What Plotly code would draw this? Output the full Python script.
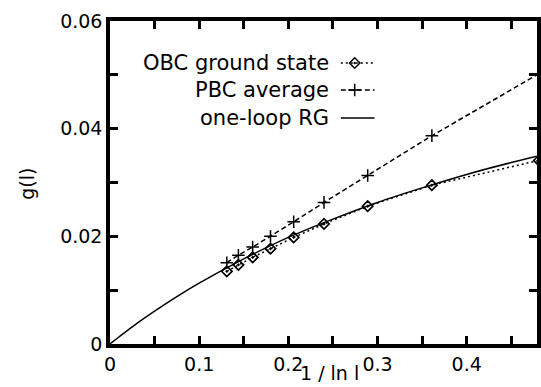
import plotly.graph_objects as go

# ---------------- data ----------------
inv_ln_l = [0.131, 0.144, 0.160, 0.180, 0.206, 0.240, 0.289, 0.361, 0.481]
obc_g = [0.0135, 0.0147, 0.0161, 0.0177, 0.0198, 0.0223, 0.0256, 0.0295, 0.0341]
pbc_g = [0.0151, 0.0165, 0.0180, 0.0200, 0.0227, 0.0263, 0.0313, 0.0387, 0.0502]

rg_x = [0, 0.01, 0.025, 0.05, 0.075, 0.1, 0.15, 0.2, 0.25, 0.3, 0.35, 0.4, 0.45, 0.5]
rg_g = [0, 0.0013, 0.0032, 0.0061, 0.0088, 0.0113, 0.0158, 0.0198, 0.0232,
        0.0263, 0.0290, 0.0315, 0.0337, 0.0357]

x_tickvals = [0, 0.05, 0.1, 0.15, 0.2, 0.25, 0.3, 0.35, 0.4, 0.45]
x_ticktext = ["0", "", "0.1", "", "0.2", "", "0.3", "", "0.4", ""]
y_tickvals = [0, 0.01, 0.02, 0.03, 0.04, 0.05, 0.06]
y_ticktext = ["0", "", "0.02", "", "0.04", "", "0.06"]

series_names = ["OBC ground state", "PBC average", "one-loop RG"]
x_title = "1 / ln l"
y_title = "g(l)"

# ---------------- layout geometry ----------------
W, H = 541, 387
ML, MR, MT, MB = 110, 0, 21, 43
PW, PH = W - ML - MR, H - MT - MB
FONT = "DejaVu Sans"


def xp(px):
    return (px - ML) / PW


def yp(py):
    return (H - MB - py) / PH


OBC_DASH = "2px,3px"
PBC_DASH = "5px,3px"

fig = go.Figure()

fig.add_trace(go.Scatter(
    x=rg_x, y=rg_g, mode="lines", line=dict(color="black", width=1.5, shape="spline"),
    showlegend=False, hoverinfo="skip"))
fig.add_trace(go.Scatter(
    x=inv_ln_l, y=obc_g, mode="lines+markers",
    line=dict(color="black", width=1.5, dash=OBC_DASH),
    marker=dict(symbol="diamond-open-dot", size=8, color="black", line=dict(width=1.7, color="black")),
    showlegend=False))
fig.add_trace(go.Scatter(
    x=inv_ln_l, y=pbc_g, mode="lines+markers",
    line=dict(color="black", width=1.5, dash=PBC_DASH),
    marker=dict(symbol="cross-thin", size=9, color="black", line=dict(width=1.5, color="black")),
    showlegend=False))

# ---------------- manual key (text left of sample, gnuplot style) ----------------
key_rows_y = [63, 90, 118]
key_styles = [
    dict(dash=OBC_DASH, symbol="diamond-open-dot", size=8),
    dict(dash=PBC_DASH, symbol="cross-thin", size=9),
    dict(dash="solid", symbol=None, size=0),
]
for name, ry, st in zip(series_names, key_rows_y, key_styles):
    fig.add_trace(go.Scatter(
        x=[343, 377], y=[ry, ry], mode="lines", xaxis="x2", yaxis="y2",
        line=dict(color="black", width=1.5, dash=st["dash"]),
        showlegend=False, hoverinfo="skip"))
    if st["symbol"]:
        fig.add_trace(go.Scatter(
            x=[357], y=[ry], mode="markers", xaxis="x2", yaxis="y2",
            marker=dict(symbol=st["symbol"], size=st["size"], color="black",
                        line=dict(width=1.5, color="black")),
            showlegend=False, hoverinfo="skip"))
    fig.add_annotation(
        x=xp(333), y=yp(ry), xref="paper", yref="paper", text=name, showarrow=False,
        xanchor="right", yanchor="middle", font=dict(family=FONT, size=21, color="black"))

# axis titles
fig.add_annotation(x=xp(332), y=yp(373), xref="paper", yref="paper", text=x_title,
                   showarrow=False, xanchor="center", yanchor="middle",
                   font=dict(family=FONT, size=19, color="black"))
fig.add_annotation(x=xp(26), y=yp(184), xref="paper", yref="paper", text=y_title,
                   showarrow=False, xanchor="center", yanchor="middle", textangle=-90,
                   font=dict(family=FONT, size=19, color="black"))

axis_common = dict(
    showgrid=False, zeroline=False, showline=True, linecolor="black", linewidth=3.5,
    mirror="ticks", ticks="inside", ticklen=8, tickwidth=2.5, tickcolor="black",
    tickfont=dict(family=FONT, size=19, color="black"),
)

fig.update_layout(
    width=W, height=H,
    margin=dict(l=ML, r=MR, t=MT, b=MB, pad=0),
    paper_bgcolor="white", plot_bgcolor="white",
    xaxis=dict(range=[0, PW / 900], tickmode="array", tickvals=x_tickvals,
               ticktext=x_ticktext, **axis_common),
    yaxis=dict(range=[0, 0.06], tickmode="array", tickvals=y_tickvals,
               ticktext=y_ticktext, **axis_common),
    xaxis2=dict(range=[ML, W - MR], overlaying="x", visible=False, anchor="y2"),
    yaxis2=dict(range=[H - MB, MT], overlaying="y", visible=False, anchor="x2"),
    showlegend=False,
)

fig.write_html(
    "out.html",
    config={"displayModeBar": False},
    post_script="document.body.style.margin='0';document.body.style.overflow='hidden';",
)
